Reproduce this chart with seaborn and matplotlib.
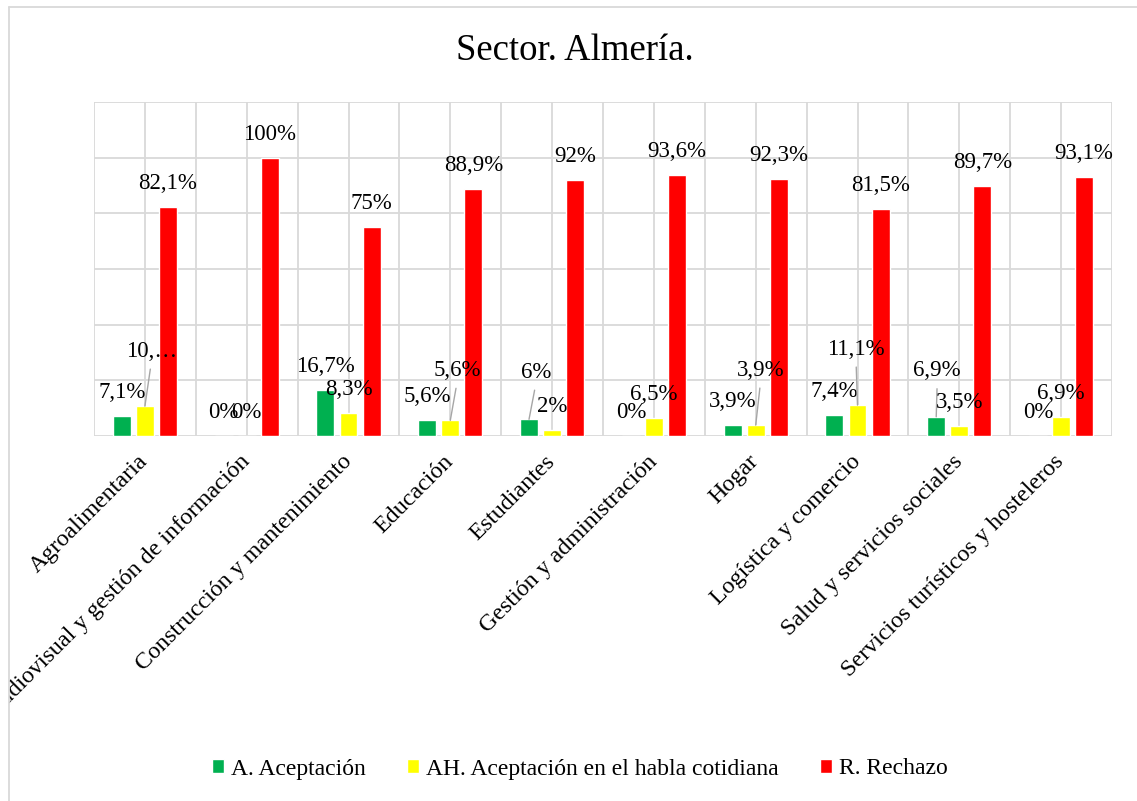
import numpy as np
import pandas as pd
import matplotlib
matplotlib.use("Agg")
import matplotlib.pyplot as plt
import seaborn as sns
from matplotlib.transforms import Bbox, TransformedBbox
from matplotlib.lines import Line2D

# ---------------- data ----------------
categories = [
    "Agroalimentaria",
    "Audiovisual y gestión de información",
    "Construcción y mantenimiento",
    "Educación",
    "Estudiantes",
    "Gestión y administración",
    "Hogar",
    "Logística y comercio",
    "Salud y servicios sociales",
    "Servicios turísticos y hosteleros",
]
series_names = ["A. Aceptación", "AH. Aceptación en el habla cotidiana", "R. Rechazo"]
aceptacion = [7.1, 0, 16.7, 5.6, 6, 0, 3.9, 7.4, 6.9, 0]
aceptacion_habla = [10.7, 0, 8.3, 5.6, 2, 6.5, 3.9, 11.1, 3.5, 6.9]
rechazo = [82.1, 100, 75, 88.9, 92, 93.6, 92.3, 81.5, 89.7, 93.1]
truncated_labels = {(0, 1): "10,…"}
title = "Sector. Almería."

# ---------------- style ----------------
colors = ["#00B050", "#FFFF00", "#FF0000"]
grid_color = "#d9d9d9"
# label offsets (pixels) relative to the bar top; default above the bar
default_offset = (0, 23.5)
special_offsets = {
    (0, 1): (6.5, 55),
    (3, 1): (7, 50),
    (4, 0): (7, 47),
    (6, 1): (5, 55),
    (7, 1): (-1.5, 56),
    (8, 0): (1, 46),
}

df = pd.DataFrame({
    "Sector": categories * 3,
    "Serie": [s for s in series_names for _ in categories],
    "Valor": aceptacion + aceptacion_habla + rechazo,
})

sns.set_style("white")
plt.rcParams["font.family"] = ["Liberation Serif", "DejaVu Serif"]
plt.rcParams["text.color"] = "black"
plt.rcParams["xtick.color"] = "black"
plt.rcParams["ytick.color"] = "black"
plt.rcParams["axes.labelcolor"] = "black"

W, H = 1137, 801
fig = plt.figure(figsize=(W / 100, H / 100), dpi=100)
fig.patch.set_facecolor("white")
ax = fig.add_axes([94 / W, 1 - 436 / H, 1018 / W, 334 / H])

sns.barplot(data=df, x="Sector", y="Valor", hue="Serie", order=categories,
            hue_order=series_names, palette=colors, saturation=1,
            width=0.68, gap=0.22, errorbar=None, ax=ax)

handles, labels = ax.get_legend_handles_labels()
if ax.get_legend() is not None:
    ax.get_legend().remove()

ax.set_xlim(-0.5, len(categories) - 0.5)
ax.set_ylim(0, 120)
ax.set_yticks(np.arange(0, 121, 20))
ax.set_yticklabels([])
ax.set_xticks(np.arange(len(categories)))
ax.set_xticks(np.arange(-0.5, len(categories), 1), minor=True)
ax.set_xlabel("")
ax.set_ylabel("")
for s in ax.spines.values():
    s.set_visible(False)
ax.set_axisbelow(True)
ax.grid(True, which="both", axis="x", color=grid_color, lw=1.3)
ax.grid(True, which="major", axis="y", color=grid_color, lw=1.3)
ax.tick_params(axis="both", which="both", length=0)
ax.tick_params(axis="x", pad=16.3)
ax.set_xticklabels(categories, rotation=45, ha="right", va="center",
                   rotation_mode="anchor", fontsize=17.3, color="black")

clip = TransformedBbox(Bbox.from_extents(9 / W, 0, 1, 1), fig.transFigure)
for lbl in ax.get_xticklabels():
    lbl.set_clip_on(True)
    lbl.set_clip_box(clip)

# data labels
for si, cont in enumerate(ax.containers):
    for ci, bar in enumerate(cont):
        v = bar.get_height()
        txt = truncated_labels.get((ci, si), f"{v:g}".replace(".", ",") + "%")
        x = bar.get_x() + bar.get_width() / 2
        dx, dy = special_offsets.get((ci, si), default_offset)
        kw = {}
        if (ci, si) in special_offsets:
            kw["arrowprops"] = dict(arrowstyle="-", color="#a6a6a6", lw=1.0,
                                    shrinkA=3, shrinkB=0, relpos=(0.5, 0))
        ax.annotate(txt, xy=(x, v), xytext=(dx, dy), textcoords="offset pixels",
                    ha="center", va="center", fontsize=16.5, color="black", **kw)

fig.text(575 / W, 1 - 60 / H, title, ha="center", va="baseline", fontsize=26.5,
         color="black")

fig.legend(handles, labels, loc="center", bbox_to_anchor=(580 / W, 1 - 769 / H),
           ncol=3, frameon=False, fontsize=17, handlelength=0.5, handleheight=0.5,
           handletextpad=0.3, columnspacing=1.75)

# chart-area border (left and top visible)
fig.add_artist(Line2D([8.5 / W, 8.5 / W], [0, 1 - 6.5 / H], transform=fig.transFigure,
                      color=grid_color, lw=1.3))
fig.add_artist(Line2D([8.5 / W, 1], [1 - 6.5 / H, 1 - 6.5 / H], transform=fig.transFigure,
                      color=grid_color, lw=1.3))

fig.savefig("out.png", dpi=100, facecolor="white")
